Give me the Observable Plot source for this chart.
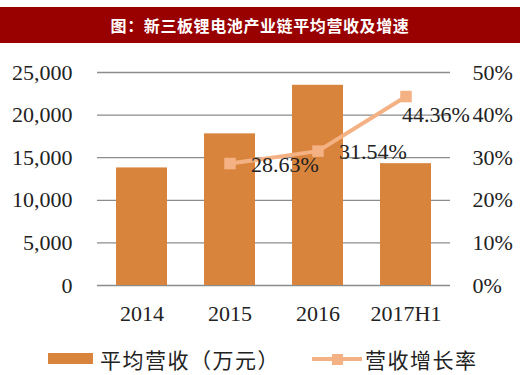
<!DOCTYPE html>
<html>
<head>
<meta charset="utf-8">
<script src="https://cdn.jsdelivr.net/npm/d3@7"></script>
<script src="https://cdn.jsdelivr.net/npm/@observablehq/plot@0.6"></script>
<style>
  body { margin: 0; background: #fff; }
  #wrap { position: relative; width: 520px; height: 375px; overflow: hidden; }
  #title { position: absolute; top: 7px; left: 0; width: 520px; height: 36px; background: #990000; color: #fff;
    font-family: "Noto Sans CJK SC", sans-serif; font-size: 16px; font-weight: bold; line-height: 36px; text-align: center; letter-spacing: 0.6px; }
  #plot { position: absolute; top: 43px; left: 0; }
  .leg { position: absolute; font-family: "Noto Sans CJK SC", sans-serif; font-size: 21px; color: #222; line-height: 24px; letter-spacing: 1.5px; white-space: nowrap; }
</style>
</head>
<body>
<div id="wrap">
  <div id="title"></div>
  <div id="plot"></div>
  <svg style="position:absolute;left:0;top:340px" width="520" height="35">
    <rect id="sw1" x="48" y="13" width="45" height="11"></rect>
    <line id="sw2l" x1="312" x2="362" y1="19" y2="19" stroke-width="4"></line>
    <rect id="sw2d" x="332" y="14" width="11" height="11"></rect>
  </svg>
  <div class="leg" id="leg1" style="left:100px;top:347px"></div>
  <div class="leg" id="leg2" style="left:365px;top:347px"></div>
</div>
<script>
const titleText = "图：新三板锂电池产业链平均营收及增速";
const categories = ["2014", "2015", "2016", "2017H1"];
const revenue = [13800, 17800, 23500, 14300];
const rateCategories = ["2015", "2016", "2017H1"];
const rate = [28.63, 31.54, 44.36];
const rateLabels = ["28.63%", "31.54%", "44.36%"];
const leftTicks = [0, 5000, 10000, 15000, 20000, 25000];
const rightTickLabels = ["0%", "10%", "20%", "30%", "40%", "50%"];
const seriesNames = ["平均营收（万元）", "营收增长率"];
const barColor = "#D9843C";
const lineColor = "#F4B183";

const yMax = 25000, rateMax = 50;
const k = yMax / rateMax;

document.getElementById("title").textContent = titleText;
document.getElementById("leg1").textContent = seriesNames[0];
document.getElementById("leg2").textContent = seriesNames[1];
document.getElementById("sw1").setAttribute("fill", barColor);
document.getElementById("sw2l").setAttribute("stroke", lineColor);
document.getElementById("sw2d").setAttribute("fill", lineColor);

const bars = categories.map((c, i) => ({c, v: revenue[i]}));
const pts = rateCategories.map((c, i) => ({c, r: rate[i] * k, label: rateLabels[i]}));

const font = "Liberation Serif, Times New Roman, serif";

const chart = Plot.plot({
  width: 520,
  height: 297,
  marginTop: 29,
  marginBottom: 55,
  marginLeft: 97,
  marginRight: 70,
  style: {fontFamily: font, fontSize: "22px", color: "#222", background: "transparent"},
  x: {domain: categories, paddingInner: 0.42, paddingOuter: 0.21, label: null},
  y: {domain: [0, yMax], label: null},
  marks: [
    Plot.ruleY(leftTicks, {stroke: "#8c8c8c", strokeWidth: 1.3}),
    Plot.barY(bars, {x: "c", y: "v", fill: barColor}),
    Plot.line(pts, {x: "c", y: "r", stroke: lineColor, strokeWidth: 4}),
    Plot.dot(pts, {x: "c", y: "r", symbol: "square", r: 6.5, fill: lineColor, stroke: "none"}),
    Plot.text(pts.slice(0, 2), {x: "c", y: "r", text: "label", textAnchor: "start", dx: 21, dy: 1, fontSize: 22, fill: "#222"}),
    Plot.text(pts.slice(2), {x: "c", y: "r", text: "label", textAnchor: "start", dx: -4, dy: 18, fontSize: 22, fill: "#222"}),
    Plot.axisY({ticks: leftTicks, tickFormat: d3.format(","), tickSize: 0, tickPadding: 25, fontSize: 22, label: null}),
    Plot.axisY({anchor: "right", ticks: leftTicks, tickFormat: d => rightTickLabels[leftTicks.indexOf(d)], tickSize: 0, tickPadding: 22, fontSize: 22, label: null}),
    Plot.axisX({tickSize: 0, tickPadding: 20, fontSize: 22, label: null})
  ]
});
document.getElementById("plot").appendChild(chart);
</script>
</body>
</html>
